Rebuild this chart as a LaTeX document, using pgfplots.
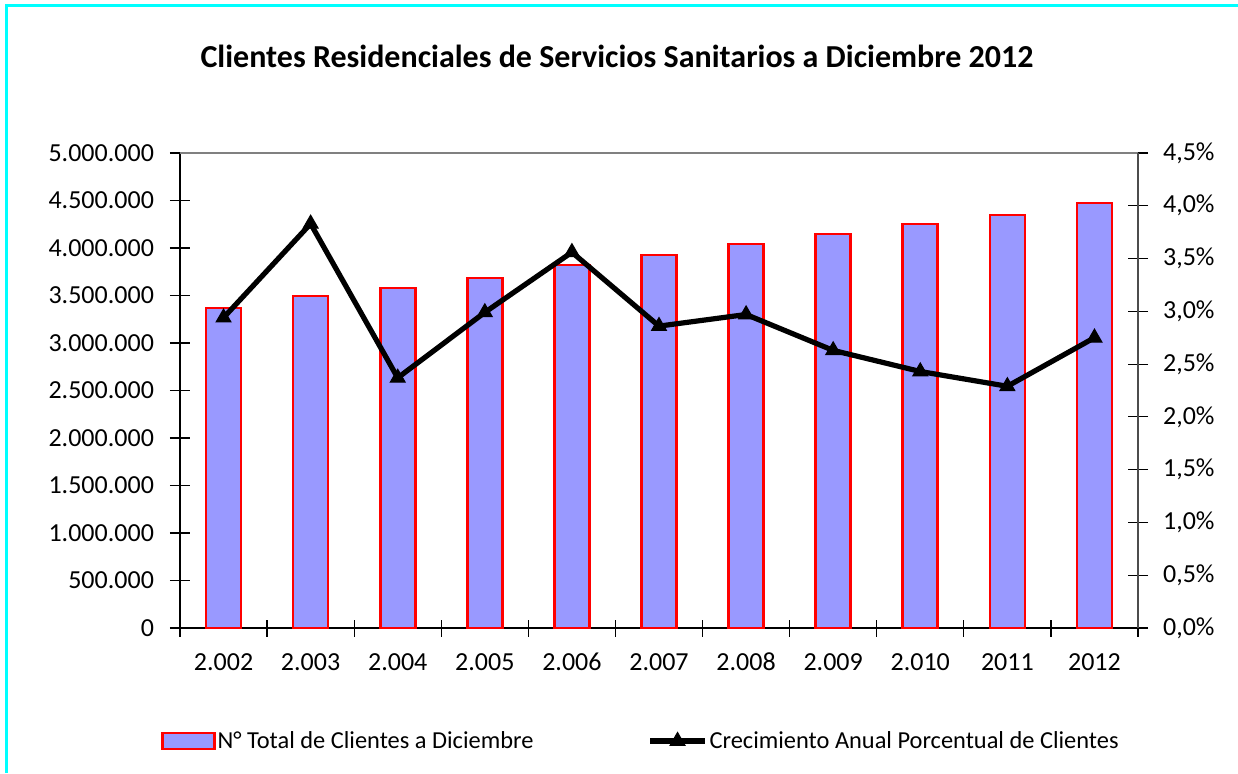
\documentclass[border=0pt]{standalone}
\usepackage{pgfplots}
\pgfplotsset{compat=1.18}
\usepackage{fontspec}
\setmainfont{Carlito}
\definecolor{barfill}{HTML}{9999FF}
\definecolor{cyanb}{HTML}{00FFFF}
\pgfplotsset{lineleg/.style={legend image code/.code={\draw[##1, mark repeat=2, mark phase=2] plot coordinates {(0pt,0pt) (13.75pt,0pt) (27.5pt,0pt)};}}}
\begin{document}
\begin{tikzpicture}
\path[use as bounding box] (0,0) rectangle (619pt,386.5pt);
\draw[cyanb, line width=1.5pt] (3pt,0) -- (3pt,383.5pt) -- (619pt,383.5pt);
\node[font=\fontsize{16}{19}\selectfont\bfseries] at (308.5pt,358.5pt) {Clientes Residenciales de Servicios Sanitarios a Diciembre 2012};
\begin{axis}[
  at={(90pt,72.5pt)}, anchor=south west,
  scale only axis, width=479pt, height=237.5pt,
  xmin=-0.5, xmax=10.5, ymin=0, ymax=5000000,
  axis x line*=bottom, axis y line*=left,
  x axis line style={black, line width=1.4pt},
  y axis line style={black, line width=1pt},
  xtick={0,...,10},
  xticklabels={2.002,2.003,2.004,2.005,2.006,2.007,2.008,2.009,2.010,2011,2012},
  major x tick style={draw=none},
  minor xtick={-0.5,0.5,...,10.5},
  minor x tick style={black, line width=0.6pt},
  minor tick length=8.5pt,
  ytick={0,500000,...,5000000},
  major tick length=10pt,
  tick align=center,
  y tick style={black, line width=0.6pt},
  scaled y ticks=false,
  /pgf/number format/assume math mode=true,
  tick label style={font=\fontsize{13}{15}\selectfont},
  xticklabel style={yshift=-4pt, text height=8.5pt, text depth=0pt},
  yticklabel style={xshift=-4.5pt, /pgf/number format/.cd, fixed, 1000 sep={.}},
]
\addplot[ybar, bar width=17.5pt, fill=barfill, draw=red, line width=1.3pt] coordinates {
(0,3368000) (1,3495000) (2,3579000) (3,3684000) (4,3820000) (5,3926000)
(6,4042000) (7,4147000) (8,4253000) (9,4347000) (10,4474000)};
\end{axis}
\begin{axis}[
  at={(90pt,72.5pt)}, anchor=south west,
  scale only axis, width=479pt, height=237.5pt,
  xmin=-0.5, xmax=10.5, ymin=0, ymax=4.5,
  axis x line*=top, axis y line*=right,
  x axis line style={gray, line width=1pt},
  y axis line style={black!70, line width=1pt},
  xtick=\empty,
  ytick={0,0.5,...,4.5},
  yticklabels={{0,0\%},{0,5\%},{1,0\%},{1,5\%},{2,0\%},{2,5\%},{3,0\%},{3,5\%},{4,0\%},{4,5\%}},
  major tick length=10pt, tick align=center,
  y tick style={black, line width=0.6pt},
  tick label style={font=\fontsize{13}{15}\selectfont},
  yticklabel style={xshift=4pt},
  legend style={at={(0.481,-0.238)}, anchor=center, draw=none, fill=none,
    font=\fontsize{12.2}{14}\selectfont, legend columns=2,
    /tikz/every even column/.append style={column sep=56pt},
    inner sep=0pt, nodes={inner sep=1pt}},
  legend cell align=left,
]
\addlegendimage{legend image code/.code={\draw[fill=barfill, draw=red, line width=1.3pt] (0pt,-4pt) rectangle (26pt,4pt);}}
\addlegendentry{N° Total de Clientes a Diciembre}
\addplot[black, line width=2.6pt, mark=triangle*, mark size=4.3pt, mark options={solid, line width=0.5pt}, lineleg] coordinates {
(0,2.94) (1,3.83) (2,2.37) (3,2.99) (4,3.56) (5,2.86)
(6,2.97) (7,2.63) (8,2.43) (9,2.29) (10,2.75)};
\addlegendentry{Crecimiento Anual Porcentual de Clientes}
\end{axis}
\end{tikzpicture}
\end{document}
